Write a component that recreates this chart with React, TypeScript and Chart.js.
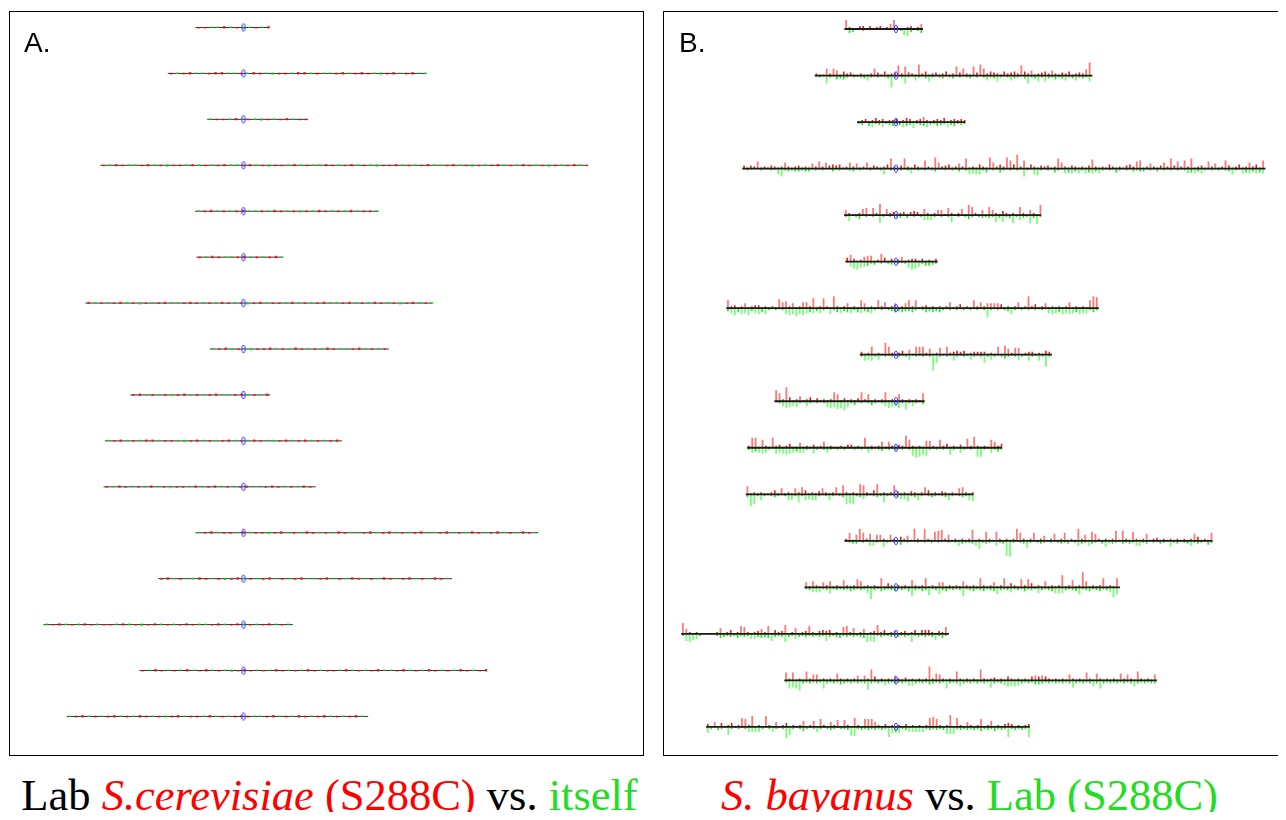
import React, { useEffect, useRef } from "react";
import { Chart, registerables } from "chart.js";

Chart.register(...registerables);

// Yeast chromosomes I..XVI
const chromosomes = ["I", "II", "III", "IV", "V", "VI", "VII", "VIII", "IX", "X", "XI", "XII", "XIII", "XIV", "XV", "XVI"];
const chromLengthsKb = [230, 813, 317, 1532, 577, 270, 1091, 563, 440, 746, 667, 1078, 924, 784, 1091, 948];
const centromereKb = [151, 238, 114, 450, 152, 148, 497, 106, 356, 436, 440, 151, 268, 629, 327, 556];

// Panel A: S288C vs itself, 20 kb bins, + = red mark, - = green mark
const selfBinKb = 20;
const selfMarks: number[][] = [
  [1, 1, -1, -1, 2, -1, 1, -2, -1, 1, -1, 2],
  [1, -1, 1, 2, -1, -1, 1, 2, 2, -1, -1, 1, -1, 2, 1, -1, -2, 1, 1, -1, 2, 2, -1, 1, -1, -1, 1, 2, -1, 1, 2, 1, -1, -2, 1, 2, -1, 1, 2, -1, -1],
  [-1, 1, 1, -1, 2, -1, 1, -1, -2, 1, -1, 1, 2, -1, 1, 1],
  [1, -1, 2, 1, -1, -1, 1, 2, -1, 1, -2, 1, 1, -1, 2, -1, 1, -1, 1, 2, -1, -1, 1, 2, -1, 1, -2, 1, 1, -1, 2, -1, 1, -1, -1, 2, 1, -1, 1, 2, -1, 1, -1, -2, 1, 1, 2, -1, 1, -1, 1, 2, -1, -1, 1, 2, -1, 1, -2, 1, -1, 1, 2, -1, 1, -1, 2, 1, -1, 1, -2, 1, -1, 1, 2, -1, 1],
  [-1, 1, 2, -1, 1, -1, 1, 2, -1, -1, 1, -1, 2, 1, -1, 1, -2, 1, -1, 2, 1, -1, 1, -1, 2, -1, 1, 1, -1],
  [1, -1, 2, 1, -1, -1, 1, 2, -1, 1, -1, 1, 2, -1],
  [2, -1, 1, -1, 1, 2, -1, 1, -2, 1, -1, 1, 2, -1, -1, 1, 2, 1, -1, 1, -1, 2, 1, -1, 1, -2, 1, 2, -1, 1, 1, -1, 2, -1, 1, -1, 1, 2, -1, -1, 1, 2, -1, 1, -1, 2, 1, -1, 1, -2, 1, 2, -1, 1, -1],
  [-1, 1, 2, -1, 1, -1, -2, 1, 1, 2, -1, 1, -1, 2, 1, -1, 1, -1, 2, 1, -1, -1, 1, 2, -1, 1, -1, 1, 2],
  [1, 2, -1, 1, -1, 1, -2, 1, 2, -1, 1, -1, 1, 2, -1, -1, 1, 2, -1, 1, -1, 2],
  [-1, 1, 2, -1, 1, -1, 2, 2, -1, 1, 1, -1, -2, 1, 2, -1, 1, -1, 1, 2, -1, 1, -1, 2, 1, -1, -1, 1, 2, -1, 1, 2, -1, 1, -1, 1, 2, -1],
  [1, -1, 2, 1, -1, 1, -1, 2, -1, 1, -2, 1, 1, -1, 2, -1, 1, 2, -1, 1, -1, 1, 2, -1, -1, 1, 2, 1, -1, 1, -1, 2, 1, -1],
  [-1, 1, 2, -1, 1, 1, -1, 2, -1, 1, 1, -2, 1, 2, -1, 1, -1, 2, 1, -1, 1, -1, 2, 1, -1, -1, 1, 2, -1, 1, 2, -1, 1, -1, 1, 2, -1, -1, 1, 2, -1, 1, -1, 2, 1, -1, 1, 2, -1, 1, -1, 2, 1, -1],
  [1, 2, -1, 1, -1, -1, 2, 1, -1, 1, -2, 1, 2, -1, 1, -1, 1, 2, -1, 1, -1, 1, 2, -1, -1, 1, 2, -1, 1, -1, 2, 1, -1, 1, -1, 2, 1, -1, 1, 2, -1, 1, -1, 2, 1, -1, 1],
  [-1, 1, 2, -1, 1, -1, 2, 1, -1, 1, 1, -1, 2, -1, 1, -2, 1, 2, -1, 1, -1, 1, 2, 1, -1, -1, 1, 2, -1, 1, 2, -1, 1, -1, 1, 2, -1, 1, -1, 2],
  [1, -1, 2, 1, -1, 1, -1, 2, -1, 1, 2, -1, 1, -1, -2, 1, 2, 1, -1, 1, -1, 2, 1, -1, 1, -1, 2, 1, -1, 1, 1, -1, 2, -1, 1, -1, 1, 2, -1, -1, 1, 2, -1, 1, -1, 2, 1, -1, 1, -1, 2, 1, -1, 1, 2],
  [-1, 1, 2, -1, 1, -1, 1, 2, -1, 1, -1, 2, 1, -1, 1, -2, 1, 2, -1, 1, 1, -1, 2, -1, 1, -1, 1, 2, 1, -1, -1, 1, 2, -1, 1, -1, 2, 1, -1, 1, 2, -1, 1, -1, 1, 2, -1, 1],
];

// Panel B: S. bayanus vs S288C, 10 kb bins, heights (px-like units)
const bayBinKb = 10;
const bayanusUp: number[][] = [
  [9, 2, 1, 0, 3, 3, 1, 3, 0, 2, 3, 1, 2, 5, 9, 2, 0, 1, 2, 3, 1, 2, 5],
  [2, 1, 1, 7, 2, 7, 5, 1, 4, 2, 3, 1, 0, 2, 1, 1, 2, 7, 3, 1, 4, 1, 2, 3, 10, 2, 9, 3, 2, 1, 11, 2, 4, 1, 2, 3, 1, 2, 4, 1, 2, 9, 3, 7, 2, 1, 9, 3, 11, 7, 2, 4, 3, 2, 1, 4, 2, 3, 4, 2, 10, 4, 2, 5, 1, 2, 3, 4, 2, 5, 2, 1, 3, 2, 4, 1, 2, 3, 2, 6, 13],
  [1, 2, 3, 1, 2, 4, 2, 3, 1, 2, 2, 3, 1, 2, 4, 3, 1, 2, 3, 5, 2, 1, 2, 3, 2, 4, 1, 2, 3, 2, 3, 2],
  [3, 1, 3, 2, 7, 1, 2, 1, 3, 2, 1, 2, 6, 2, 1, 2, 3, 1, 2, 1, 5, 2, 7, 2, 6, 3, 4, 3, 4, 1, 2, 6, 2, 5, 1, 2, 6, 1, 3, 2, 1, 2, 4, 10, 2, 1, 3, 10, 2, 1, 4, 2, 1, 8, 2, 1, 11, 6, 2, 3, 4, 1, 2, 5, 2, 10, 1, 2, 1, 4, 2, 1, 11, 6, 2, 4, 2, 11, 8, 4, 14, 2, 8, 1, 4, 2, 1, 3, 2, 3, 1, 2, 10, 6, 2, 1, 3, 2, 1, 2, 1, 3, 9, 2, 1, 2, 1, 4, 2, 1, 2, 1, 3, 4, 2, 7, 8, 1, 2, 5, 2, 1, 3, 6, 2, 10, 3, 7, 2, 8, 2, 10, 1, 2, 3, 1, 7, 2, 5, 1, 2, 8, 3, 1, 2, 4, 1, 2, 6, 2, 4, 1, 8],
  [5, 2, 1, 1, 2, 6, 7, 1, 7, 2, 11, 1, 6, 2, 3, 1, 2, 3, 1, 3, 4, 3, 1, 6, 2, 1, 2, 5, 5, 1, 7, 2, 1, 2, 6, 1, 10, 8, 2, 1, 5, 1, 8, 5, 2, 1, 4, 2, 1, 2, 1, 8, 2, 1, 5, 2, 1, 10],
  [4, 7, 3, 1, 2, 5, 6, 6, 1, 2, 8, 4, 1, 3, 1, 2, 5, 1, 2, 3, 3, 1, 3, 1, 2, 1, 3],
  [8, 2, 3, 1, 2, 5, 1, 2, 3, 3, 1, 2, 1, 2, 1, 9, 6, 7, 2, 5, 1, 2, 6, 6, 2, 10, 1, 2, 10, 2, 1, 12, 2, 1, 2, 5, 1, 2, 1, 8, 5, 1, 2, 1, 8, 2, 6, 1, 2, 5, 1, 2, 5, 8, 2, 8, 1, 2, 3, 1, 2, 1, 2, 1, 2, 6, 1, 2, 4, 1, 2, 1, 8, 2, 6, 2, 5, 5, 5, 5, 4, 1, 2, 1, 2, 6, 1, 2, 12, 2, 4, 1, 2, 5, 1, 2, 1, 2, 1, 2, 6, 1, 2, 1, 2, 1, 8, 12, 11],
  [3, 1, 2, 8, 1, 2, 1, 12, 8, 2, 1, 2, 4, 1, 5, 1, 8, 8, 8, 2, 6, 1, 2, 7, 1, 8, 2, 3, 4, 3, 4, 1, 2, 3, 3, 3, 3, 1, 2, 1, 8, 1, 9, 6, 2, 7, 7, 1, 2, 3, 3, 1, 2, 1, 4, 3],
  [11, 8, 2, 14, 4, 1, 2, 5, 1, 2, 4, 1, 3, 1, 2, 1, 2, 9, 7, 1, 3, 1, 2, 1, 3, 9, 2, 7, 1, 2, 1, 2, 9, 1, 2, 1, 7, 2, 1, 2, 1, 2, 1, 8],
  [2, 10, 10, 1, 8, 2, 1, 10, 2, 3, 1, 2, 4, 1, 1, 5, 1, 2, 1, 3, 1, 2, 6, 1, 2, 1, 1, 2, 1, 3, 3, 1, 2, 1, 10, 1, 2, 1, 2, 6, 1, 6, 2, 1, 3, 2, 12, 8, 2, 1, 2, 1, 7, 7, 2, 1, 8, 2, 4, 1, 2, 1, 3, 1, 9, 2, 11, 2, 1, 2, 1, 8, 6, 2, 4],
  [8, 1, 2, 1, 2, 1, 1, 2, 4, 1, 6, 1, 2, 1, 6, 2, 7, 4, 1, 2, 1, 3, 6, 2, 1, 2, 7, 1, 9, 2, 1, 2, 1, 10, 9, 2, 1, 4, 10, 1, 2, 1, 2, 9, 3, 1, 2, 1, 3, 2, 1, 2, 7, 4, 1, 2, 1, 3, 2, 1, 2, 1, 6, 7, 2, 1, 2],
  [2, 8, 1, 6, 12, 8, 2, 7, 1, 6, 6, 2, 1, 6, 2, 1, 4, 2, 5, 1, 12, 2, 1, 12, 2, 1, 9, 10, 11, 2, 6, 1, 2, 1, 2, 1, 2, 11, 1, 2, 1, 9, 2, 1, 9, 2, 1, 2, 1, 2, 12, 8, 2, 1, 2, 8, 1, 2, 5, 1, 2, 7, 1, 2, 8, 1, 2, 1, 12, 2, 6, 1, 9, 7, 2, 1, 2, 1, 2, 10, 1, 10, 2, 1, 9, 2, 1, 2, 7, 1, 2, 3, 1, 2, 1, 2, 1, 2, 1, 2, 1, 2, 7, 4, 1, 2, 1, 8],
  [5, 1, 6, 2, 1, 5, 2, 6, 1, 2, 1, 7, 2, 1, 2, 8, 6, 1, 2, 1, 2, 1, 9, 1, 4, 2, 1, 2, 1, 2, 1, 7, 2, 1, 2, 9, 1, 2, 1, 5, 5, 1, 2, 1, 2, 1, 6, 2, 1, 2, 1, 9, 2, 1, 2, 5, 1, 2, 9, 1, 4, 2, 1, 8, 2, 8, 4, 1, 2, 1, 6, 1, 2, 1, 2, 12, 1, 2, 7, 1, 2, 15, 6, 1, 2, 1, 2, 9, 1, 2, 1, 9],
  [11, 5, 2, 1, 2, 0, 0, 0, 1, 1, 2, 6, 1, 2, 4, 1, 2, 8, 7, 2, 1, 2, 3, 5, 2, 8, 1, 4, 2, 3, 9, 1, 2, 6, 1, 2, 3, 8, 2, 1, 3, 4, 3, 4, 1, 2, 1, 7, 8, 2, 6, 1, 2, 5, 1, 2, 3, 9, 2, 4, 1, 2, 3, 1, 2, 3, 1, 2, 4, 1, 4, 4, 4, 2, 1, 3, 2, 7],
  [8, 2, 8, 1, 2, 1, 9, 2, 6, 6, 1, 2, 1, 2, 1, 7, 2, 1, 2, 1, 2, 5, 1, 5, 2, 11, 4, 1, 2, 1, 2, 1, 5, 2, 1, 3, 1, 2, 1, 2, 1, 2, 14, 2, 7, 6, 2, 1, 2, 1, 9, 2, 1, 2, 1, 2, 1, 11, 2, 1, 2, 3, 1, 2, 1, 4, 2, 1, 2, 1, 2, 1, 4, 5, 4, 5, 4, 2, 1, 2, 1, 2, 1, 6, 2, 1, 2, 1, 8, 2, 1, 7, 2, 1, 2, 1, 2, 1, 7, 2, 6, 2, 1, 9, 2, 1, 2, 1, 6],
  [3, 1, 5, 1, 4, 1, 2, 4, 1, 2, 9, 8, 2, 11, 1, 2, 1, 11, 2, 1, 5, 1, 2, 4, 1, 2, 1, 2, 6, 1, 2, 6, 1, 8, 2, 1, 5, 2, 7, 1, 7, 2, 1, 9, 2, 1, 8, 8, 8, 5, 2, 1, 3, 1, 2, 1, 2, 1, 3, 1, 2, 1, 2, 1, 2, 9, 10, 8, 2, 1, 2, 12, 1, 9, 2, 1, 5, 2, 1, 2, 8, 1, 2, 6, 1, 2, 1, 3, 4, 3, 1, 2, 1, 2, 3],
];
const bayanusDown: number[][] = [
  [1, 4, 3, 0, 1, 2, 1, 0, 1, 0, 0, 1, 0, 1, 0, 1, 2, 6, 7, 3, 1, 2, 4],
  [1, 2, 1, 8, 2, 1, 4, 3, 4, 2, 1, 2, 1, 2, 3, 5, 2, 1, 2, 1, 2, 3, 12, 2, 1, 2, 8, 2, 1, 5, 2, 1, 3, 6, 2, 1, 2, 3, 1, 2, 3, 1, 2, 1, 2, 3, 1, 2, 1, 2, 5, 2, 3, 6, 2, 1, 2, 5, 3, 2, 1, 3, 8, 2, 3, 6, 2, 6, 3, 2, 4, 2, 3, 5, 2, 3, 5, 2, 3, 2, 6],
  [2, 3, 1, 4, 5, 2, 3, 5, 2, 3, 4, 2, 3, 5, 4, 3, 6, 2, 3, 4, 5, 3, 2, 4, 3, 2, 5, 3, 4, 2, 3, 2],
  [1, 2, 1, 0, 1, 2, 1, 1, 2, 1, 6, 8, 2, 3, 2, 3, 3, 2, 3, 3, 1, 2, 1, 2, 1, 1, 3, 1, 2, 1, 1, 2, 3, 1, 2, 1, 1, 2, 1, 1, 2, 6, 1, 2, 1, 1, 2, 1, 2, 5, 1, 2, 1, 2, 1, 2, 3, 1, 1, 2, 1, 2, 1, 3, 1, 2, 6, 5, 6, 6, 2, 4, 1, 2, 1, 4, 2, 1, 2, 1, 2, 1, 8, 2, 1, 6, 7, 2, 1, 2, 1, 4, 2, 1, 5, 4, 5, 3, 5, 2, 5, 4, 5, 3, 5, 2, 1, 2, 1, 4, 2, 1, 2, 1, 3, 2, 3, 3, 1, 2, 1, 3, 1, 2, 1, 2, 1, 2, 1, 2, 5, 4, 5, 3, 5, 2, 1, 2, 1, 2, 1, 2, 3, 6, 2, 1, 5, 4, 5, 3, 5, 4, 5],
  [2, 6, 1, 2, 4, 1, 2, 1, 2, 1, 8, 2, 1, 2, 1, 2, 3, 1, 3, 1, 2, 1, 2, 5, 5, 5, 2, 1, 2, 1, 2, 7, 1, 2, 1, 2, 4, 2, 1, 2, 3, 2, 3, 2, 7, 3, 7, 2, 3, 8, 2, 5, 3, 2, 8, 3, 9, 2],
  [1, 5, 7, 8, 6, 5, 4, 2, 3, 1, 2, 1, 2, 3, 1, 2, 1, 2, 6, 8, 7, 5, 2, 4, 4, 3, 2],
  [3, 5, 7, 4, 6, 5, 7, 3, 5, 6, 4, 6, 2, 1, 2, 1, 2, 6, 7, 6, 8, 6, 7, 5, 4, 5, 3, 5, 2, 1, 6, 2, 4, 5, 3, 4, 5, 2, 4, 5, 3, 4, 5, 2, 1, 2, 1, 2, 3, 4, 3, 4, 3, 3, 4, 2, 1, 2, 4, 3, 4, 3, 4, 2, 1, 2, 1, 2, 1, 2, 1, 2, 1, 2, 1, 2, 9, 2, 1, 2, 1, 2, 3, 6, 2, 1, 2, 1, 2, 1, 2, 1, 2, 1, 5, 6, 5, 4, 6, 5, 6, 5, 4, 6, 5, 5, 2, 4, 2],
  [2, 6, 5, 6, 2, 5, 1, 2, 1, 2, 1, 2, 1, 2, 5, 1, 2, 1, 2, 1, 2, 16, 8, 2, 1, 2, 1, 6, 2, 1, 2, 1, 5, 2, 1, 2, 8, 2, 5, 2, 1, 2, 4, 2, 1, 2, 5, 2, 1, 6, 2, 1, 6, 2, 12, 2],
  [1, 2, 5, 7, 6, 5, 6, 2, 1, 5, 2, 1, 2, 1, 2, 6, 7, 6, 8, 7, 9, 6, 2, 4, 1, 2, 1, 2, 4, 2, 1, 2, 5, 7, 6, 5, 7, 2, 8, 2, 5, 2, 1, 3],
  [2, 5, 4, 5, 6, 5, 2, 1, 6, 5, 6, 7, 6, 5, 4, 5, 5, 2, 1, 6, 2, 1, 2, 5, 2, 1, 2, 1, 2, 1, 1, 2, 1, 2, 1, 5, 2, 1, 2, 3, 1, 2, 1, 2, 1, 2, 1, 2, 8, 10, 9, 7, 8, 2, 1, 2, 1, 2, 1, 7, 2, 1, 5, 2, 1, 2, 1, 9, 9, 2, 1, 5, 2, 4, 2],
  [3, 12, 10, 2, 6, 2, 1, 2, 3, 2, 1, 2, 6, 6, 2, 8, 2, 6, 5, 6, 6, 2, 1, 2, 6, 2, 1, 2, 3, 10, 9, 10, 2, 3, 5, 2, 1, 2, 3, 2, 8, 2, 1, 2, 3, 5, 5, 7, 2, 3, 6, 2, 1, 2, 3, 2, 1, 2, 3, 6, 2, 1, 2, 3, 2, 6, 7],
  [1, 2, 3, 3, 1, 2, 1, 5, 5, 2, 1, 6, 2, 1, 2, 1, 4, 1, 2, 1, 1, 2, 1, 2, 1, 2, 1, 2, 1, 1, 2, 1, 2, 5, 3, 2, 2, 3, 5, 8, 2, 3, 2, 1, 5, 2, 3, 15, 16, 2, 1, 2, 3, 7, 2, 1, 2, 3, 2, 1, 2, 1, 2, 3, 2, 3, 1, 2, 5, 3, 2, 5, 3, 2, 1, 3, 6, 2, 3, 2, 1, 3, 2, 3, 2, 5, 5, 2, 3, 1, 2, 1, 3, 2, 1, 6, 2, 3, 1, 2, 3, 5, 2, 3, 2, 1, 4, 2],
  [2, 3, 5, 5, 5, 2, 3, 6, 2, 3, 2, 3, 2, 4, 3, 2, 3, 2, 6, 12, 3, 2, 4, 3, 2, 3, 4, 2, 3, 2, 4, 9, 3, 2, 4, 3, 8, 2, 3, 7, 3, 4, 2, 3, 2, 3, 9, 2, 3, 4, 2, 3, 4, 2, 3, 4, 7, 3, 2, 3, 5, 2, 3, 2, 4, 2, 3, 2, 6, 3, 2, 3, 4, 6, 6, 6, 3, 2, 3, 4, 7, 2, 3, 4, 2, 3, 4, 2, 3, 5, 10, 7],
  [2, 7, 8, 6, 5, 2, 0, 0, 1, 1, 2, 4, 3, 2, 3, 2, 4, 2, 3, 2, 5, 5, 3, 4, 3, 4, 7, 3, 2, 3, 8, 3, 2, 5, 3, 2, 3, 2, 3, 2, 3, 2, 7, 3, 2, 3, 4, 2, 3, 2, 3, 2, 3, 4, 8, 7, 8, 2, 3, 2, 2, 3, 2, 3, 2, 3, 2, 8, 2, 3, 2, 3, 2, 3, 6, 2, 4, 2],
  [2, 8, 7, 8, 10, 3, 2, 3, 2, 3, 2, 8, 3, 2, 3, 2, 4, 3, 2, 3, 2, 3, 2, 3, 9, 3, 2, 3, 2, 5, 3, 2, 3, 2, 3, 2, 5, 5, 3, 2, 3, 2, 4, 3, 2, 3, 2, 8, 3, 2, 3, 6, 3, 2, 3, 2, 3, 2, 3, 2, 7, 3, 2, 3, 5, 6, 5, 6, 5, 3, 2, 3, 2, 4, 4, 3, 2, 3, 2, 3, 2, 3, 2, 3, 7, 3, 2, 3, 2, 3, 6, 3, 8, 3, 2, 3, 2, 3, 2, 3, 2, 3, 6, 3, 2, 3, 2, 3, 3],
  [6, 2, 1, 3, 2, 1, 8, 2, 1, 2, 1, 2, 5, 5, 5, 5, 2, 1, 2, 5, 2, 1, 2, 11, 8, 2, 1, 2, 4, 2, 1, 2, 5, 2, 1, 2, 3, 2, 1, 2, 2, 3, 9, 9, 2, 3, 2, 3, 2, 3, 2, 3, 2, 10, 6, 6, 6, 2, 3, 5, 5, 5, 5, 5, 2, 3, 2, 3, 2, 3, 7, 7, 7, 2, 3, 2, 3, 2, 3, 2, 4, 2, 3, 2, 4, 2, 3, 2, 10, 2, 3, 2, 3, 2, 10],
];

const captionLeft = [
  { text: "Lab ", color: "#000000", italic: false },
  { text: "S.cerevisiae", color: "#ff0000", italic: true },
  { text: " (S288C)", color: "#ff0000", italic: false },
  { text: " vs. ", color: "#000000", italic: false },
  { text: "itself", color: "#22dd22", italic: false },
];
const captionRight = [
  { text: "S. bayanus", color: "#ff0000", italic: true },
  { text: " vs. ", color: "#000000", italic: false },
  { text: "Lab (S288C)", color: "#22dd22", italic: false },
];

type Pt = { x: number; y: number | null };

function chromLines(base: (r: number) => number): Pt[] {
  const pts: Pt[] = [];
  chromLengthsKb.forEach((len, r) => {
    const c = centromereKb[r];
    pts.push({ x: -c, y: base(r) }, { x: len - c, y: base(r) }, { x: len - c, y: null });
  });
  return pts;
}

function spikes(
  values: number[][],
  binKb: number,
  base: (r: number) => number,
  dir: number,
  keep: (v: number) => boolean,
  hScale: number,
  hAdd: number,
  startOff: number
): Pt[] {
  const pts: Pt[] = [];
  values.forEach((row, r) => {
    const c = centromereKb[r];
    const len = chromLengthsKb[r];
    row.forEach((v, i) => {
      if (v === 0 || !keep(v)) return;
      const kb = (i + 0.5) * binKb;
      if (kb > len) return;
      const x = kb - c;
      const y0 = base(r) - dir * startOff;
      const h = Math.abs(v) * hScale + hAdd;
      pts.push({ x, y: y0 }, { x, y: y0 - dir * h }, { x, y: null });
    });
  });
  return pts;
}

function cenPoints(base: (r: number) => number): Pt[] {
  return chromosomes.map((_, r) => ({ x: 0, y: base(r) }));
}

function makeCenImage(): HTMLCanvasElement {
  const c = document.createElement("canvas");
  c.width = 6;
  c.height = 10;
  const ctx = c.getContext("2d")!;
  ctx.strokeStyle = "#3a3aff";
  ctx.lineWidth = 1;
  ctx.beginPath();
  ctx.ellipse(3, 5, 1.7, 3.8, 0, 0, Math.PI * 2);
  ctx.stroke();
  return c;
}

function lineDs(data: Pt[], color: string, width: number, order: number) {
  return {
    data,
    borderColor: color,
    backgroundColor: color,
    borderWidth: width,
    pointRadius: 0,
    pointHoverRadius: 0,
    fill: false,
    spanGaps: false,
    tension: 0,
    borderCapStyle: "butt",
    order,
  };
}

function options(xMin: number, xMax: number, h: number): any {
  return {
    animation: false,
    responsive: false,
    maintainAspectRatio: false,
    events: [],
    layout: { padding: 0, autoPadding: false },
    plugins: { legend: { display: false }, tooltip: { enabled: false }, title: { display: false } },
    scales: {
      x: { type: "linear", min: xMin, max: xMax, display: false },
      y: { type: "linear", min: 0, max: h, reverse: true, display: false },
    },
  };
}

const CANVAS_H = 743;
const A_W = 633;
const B_W = 640;

export default function App() {
  const refA = useRef<HTMLCanvasElement>(null);
  const refB = useRef<HTMLCanvasElement>(null);

  useEffect(() => {
    document.documentElement.style.overflow = "hidden";
    const cenImg = makeCenImage();
    const baseA = (r: number) => 15.5 + r * 45.93;
    const baseB = (r: number) => 17 + r * 46.53;
    const aPxPerKb = 0.318;
    const aXMin = -233.5 / aPxPerKb;
    const aXMax = aXMin + A_W / aPxPerKb;
    const bPxPerKb = 0.3415;
    const bXMin = -232 / bPxPerKb;
    const bXMax = bXMin + B_W / bPxPerKb;

    const chartA = new Chart(refA.current!, {
      type: "line",
      data: {
        datasets: [
          { ...lineDs(cenPoints(baseA), "#3a3aff", 1, 0), showLine: false, pointRadius: 4, pointStyle: cenImg } as any,
          lineDs(spikes(selfMarks, selfBinKb, baseA, 1, (v) => v > 0, 0.8, 0.8, -1), "rgba(255,0,0,0.8)", 2.4, 1) as any,
          lineDs(spikes(selfMarks, selfBinKb, baseA, -1, (v) => v < 0, 0.8, 0.8, -1), "rgba(0,225,0,0.75)", 2.4, 2) as any,
          lineDs(chromLines(baseA), "#333333", 1, 3) as any,
        ],
      },
      options: options(aXMin, aXMax, CANVAS_H),
    });

    const chartB = new Chart(refB.current!, {
      type: "line",
      data: {
        datasets: [
          { ...lineDs(cenPoints(baseB), "#3a3aff", 1, 0), showLine: false, pointRadius: 4, pointStyle: cenImg } as any,
          lineDs(chromLines(baseB), "#1a1a1a", 1.8, 1) as any,
          lineDs(spikes(bayanusUp, bayBinKb, baseB, 1, (v) => v < 5, 1, 0, 0), "rgba(240,0,0,0.9)", 1.6, 2) as any,
          lineDs(spikes(bayanusDown, bayBinKb, baseB, -1, (v) => v < 5, 1, 0, 0), "rgba(0,235,0,0.9)", 1.6, 3) as any,
          lineDs(spikes(bayanusUp, bayBinKb, baseB, 1, (v) => v >= 5, 1, 0, 0), "rgba(255,30,30,0.6)", 1.8, 4) as any,
          lineDs(spikes(bayanusDown, bayBinKb, baseB, -1, (v) => v >= 5, 1, 0, 0), "rgba(30,255,30,0.6)", 1.8, 5) as any,
        ],
      },
      options: options(bXMin, bXMax, CANVAS_H),
    });

    return () => {
      chartA.destroy();
      chartB.destroy();
    };
  }, []);

  const box: React.CSSProperties = {
    position: "absolute",
    top: 3,
    height: 745,
    border: "1px solid #000",
    boxSizing: "border-box",
    background: "#fff",
  };
  const label: React.CSSProperties = {
    position: "absolute",
    top: 17,
    fontFamily: "'Liberation Sans', Arial, sans-serif",
    fontSize: 28,
    lineHeight: "28px",
    color: "#000",
  };
  const caption: React.CSSProperties = {
    position: "absolute",
    top: 765,
    width: 800,
    textAlign: "center",
    whiteSpace: "nowrap",
    fontFamily: "'Liberation Serif', 'Times New Roman', serif",
    fontSize: 44.5,
    lineHeight: "44px",
  };

  return (
    <div style={{ position: "relative", width: 1278, height: 812, marginBottom: -8, overflow: "hidden", background: "#fff" }}>
      <div style={{ ...box, left: 1, width: 635 }}>
        <canvas ref={refA} width={A_W} height={CANVAS_H} style={{ display: "block", width: A_W, height: CANVAS_H }} />
        <div style={{ ...label, left: 14 }}>A.</div>
      </div>
      <div style={{ ...box, left: 655, width: 700, borderRight: "none", overflow: "hidden" }}>
        <canvas ref={refB} width={B_W} height={CANVAS_H} style={{ display: "block", width: B_W, height: CANVAS_H }} />
        <div style={{ ...label, left: 15 }}>B.</div>
      </div>
      <div style={{ ...caption, left: 321.5 - 400 }}>
        {captionLeft.map((s, i) => (
          <span key={i} style={{ color: s.color, fontStyle: s.italic ? "italic" : "normal" }}>{s.text}</span>
        ))}
      </div>
      <div style={{ ...caption, left: 961.5 - 400 }}>
        {captionRight.map((s, i) => (
          <span key={i} style={{ color: s.color, fontStyle: s.italic ? "italic" : "normal" }}>{s.text}</span>
        ))}
      </div>
    </div>
  );
}
